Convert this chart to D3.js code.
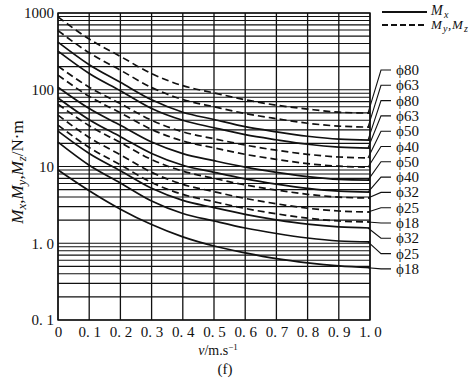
<!DOCTYPE html>
<html><head><meta charset="utf-8">
<script src="https://cdn.jsdelivr.net/npm/d3@7"></script>
<style>
html,body{margin:0;padding:0;background:#fff;}
text{font-family:"Liberation Serif","Times New Roman",serif;fill:#111;}
</style></head>
<body>
<script>
// ---- data ----
const velocity = [0, 0.1, 0.2, 0.3, 0.4, 0.5, 0.6, 0.7, 0.8, 0.9, 1.0];
const xTickValues = [0, 0.1, 0.2, 0.3, 0.4, 0.5, 0.6, 0.7, 0.8, 0.9, 1.0];
const xTickLabels = ["0", "0. 1", "0. 2", "0. 3", "0. 4", "0. 5", "0. 6", "0. 7", "0. 8", "0. 9", "1. 0"];
const yTickValues = [0.1, 1, 10, 100, 1000];
const yTickLabels = ["0. 1", "1. 0", "10", "100", "1000"];

// My, Mz (dashed)
const myz80 = [890, 458, 272, 162, 113, 91, 74, 63, 56, 51, 49.6];
const myz63 = [590, 303, 180, 107, 74.5, 60, 49, 42, 36.6, 33.6, 32.6];
const myz50 = [203, 108, 66, 40, 28.3, 23, 19, 16.3, 14.4, 13.3, 12.9];
const myz40 = [155, 82, 50, 30.4, 21.5, 17.5, 14.4, 12.4, 10.9, 10.1, 9.8];
const myz32 = [65, 34, 20.5, 12.3, 8.7, 7.0, 5.75, 4.93, 4.34, 3.99, 3.88];
const myz25 = [46.7, 23.9, 14.2, 8.4, 5.85, 4.7, 3.84, 3.27, 2.86, 2.63, 2.55];
const myz18 = [34.6, 17.7, 10.5, 6.2, 4.33, 3.48, 2.84, 2.42, 2.12, 1.95, 1.89];
// Mx (solid)
const mx80 = [417, 212, 125, 74, 51, 41, 33, 28.3, 24.8, 22.7, 22.1];
const mx63 = [318, 163, 97, 57, 40, 32, 26, 22.3, 19.5, 17.9, 17.4];
const mx50 = [108, 57, 34.4, 20.8, 14.7, 11.9, 9.8, 8.4, 7.4, 6.8, 6.65];
const mx40 = [78, 40.7, 24.5, 14.8, 10.4, 8.4, 6.9, 5.9, 5.2, 4.78, 4.64];
const mx32 = [28.9, 14.8, 8.8, 5.2, 3.62, 2.91, 2.38, 2.02, 1.77, 1.63, 1.58];
const mx25 = [20.8, 10.4, 6.1, 3.55, 2.44, 1.95, 1.58, 1.34, 1.17, 1.07, 1.04];
const mx18 = [9.0, 4.83, 2.78, 1.75, 1.21, 0.92, 0.75, 0.63, 0.555, 0.506, 0.48];

// label order (top to bottom at right edge)
const seriesLabels = ["80", "63", "80", "63", "50", "40", "50", "40", "32", "25", "18", "32", "25", "18"];
const seriesKinds  = ["d", "d", "s", "s", "d", "d", "s", "s", "d", "d", "d", "s", "s", "s"];
const seriesValues = [myz80, myz63, mx80, mx63, myz50, myz40, mx50, mx40, myz32, myz25, myz18, mx32, mx25, mx18];

// ---- layout ----
const W = 475, H = 378;
const L = 58, R = 370, T = 13, B = 320;
const svg = d3.select("body").append("svg").attr("width", W).attr("height", H);

const x = d3.scaleLinear().domain([0, 1]).range([L, R]);
const y = d3.scaleLog().domain([0.1, 1000]).range([B, T]);

// grid
const g = svg.append("g");
const hVals = [];
[0.1, 1, 10, 100].forEach(d => { for (let k = 1; k <= 9; k++) hVals.push(+(d * k).toPrecision(3)); });
hVals.push(1000);
g.selectAll("line.h").data(hVals).join("line")
  .attr("x1", L).attr("x2", R)
  .attr("y1", d => y(d)).attr("y2", d => y(d))
  .attr("stroke", "#111").attr("stroke-width", 1.1);
g.selectAll("line.v").data(xTickValues).join("line")
  .attr("y1", T).attr("y2", B)
  .attr("x1", d => x(d)).attr("x2", d => x(d))
  .attr("stroke", "#111").attr("stroke-width", 1.3);
svg.append("rect").attr("x", L).attr("y", T).attr("width", R - L).attr("height", B - T)
  .attr("fill", "none").attr("stroke", "#111").attr("stroke-width", 1.4);

// axes
const xAxis = d3.axisBottom(x).tickValues(xTickValues).tickSize(0).tickPadding(0)
  .tickFormat((d, i) => xTickLabels[i]);
const xg = svg.append("g").attr("transform", `translate(0,${B})`).call(xAxis);
xg.select(".domain").remove();
xg.selectAll("text").attr("font-size", 15).attr("dy", 0).attr("y", 17)
  .style("font-family", "'Liberation Serif',serif").attr("fill", "#111");

const yAxis = d3.axisLeft(y).tickValues(yTickValues).tickSize(0).tickPadding(4)
  .tickFormat((d, i) => yTickLabels[i]);
const yg = svg.append("g").attr("transform", `translate(${L},0)`).call(yAxis);
yg.select(".domain").remove();
yg.selectAll("text").attr("font-size", 15)
  .style("font-family", "'Liberation Serif',serif").attr("fill", "#111");

// curves
const line = d3.line().x((d, i) => x(velocity[i])).y(d => y(d)).curve(d3.curveMonotoneX);
svg.append("g").selectAll("path").data(seriesValues).join("path")
  .attr("d", d => line(d))
  .attr("fill", "none").attr("stroke", "#111").attr("stroke-width", 1.7)
  .attr("stroke-dasharray", (d, i) => seriesKinds[i] === "d" ? "7,4" : null);

// leaders and labels
const lab0 = 70, labStep = 15.3;
const lg = svg.append("g");
seriesValues.forEach((vals, i) => {
  const ye = y(vals[vals.length - 1]);
  const yl = lab0 + i * labStep;
  lg.append("polyline")
    .attr("points", `${R - 2},${ye} ${R + 11},${yl} ${R + 21},${yl}`)
    .attr("fill", "none").attr("stroke", "#111").attr("stroke-width", 1.1);
  lg.append("text").attr("x", R + 26).attr("y", yl + 5).attr("font-size", 15)
    .text("\u03D5" + seriesLabels[i]);
});

// legend
svg.append("line").attr("x1", 382).attr("x2", 427).attr("y1", 12).attr("y2", 12)
  .attr("stroke", "#111").attr("stroke-width", 1.8);
svg.append("line").attr("x1", 382).attr("x2", 427).attr("y1", 25).attr("y2", 25)
  .attr("stroke", "#111").attr("stroke-width", 1.8).attr("stroke-dasharray", "6,3");
const legTxt = (tx, ty, s, size) => svg.append("text").attr("x", tx).attr("y", ty)
  .attr("font-size", size).attr("font-style", "italic").text(s);
legTxt(431, 15, "M", 14);
legTxt(444, 18, "x", 10);
legTxt(431, 29, "M", 13);
legTxt(443, 32, "y", 10);
legTxt(448, 29, ",", 13);
legTxt(452, 29, "M", 13);
legTxt(464, 32, "z", 10);

// y title
svg.append("text").attr("transform", "translate(23,172) rotate(-90)")
  .attr("text-anchor", "middle").attr("font-size", 17)
  .html('<tspan font-style="italic">M</tspan><tspan font-style="italic" font-size="13" dy="3">x</tspan><tspan dy="-3">,</tspan><tspan font-style="italic">M</tspan><tspan font-style="italic" font-size="13" dy="3">y</tspan><tspan dy="-3">,</tspan><tspan font-style="italic">M</tspan><tspan font-style="italic" font-size="13" dy="3">z</tspan><tspan dy="-3">/N\u00B7m</tspan>');

// x title
svg.append("text").attr("x", 218).attr("y", 355).attr("text-anchor", "middle").attr("font-size", 14)
  .html('<tspan font-style="italic">v</tspan>/m.s<tspan font-size="9" dy="-5">\u22121</tspan>');
svg.append("text").attr("x", 225).attr("y", 374).attr("text-anchor", "middle").attr("font-size", 15).text("(f)");
</script>
</body></html>
